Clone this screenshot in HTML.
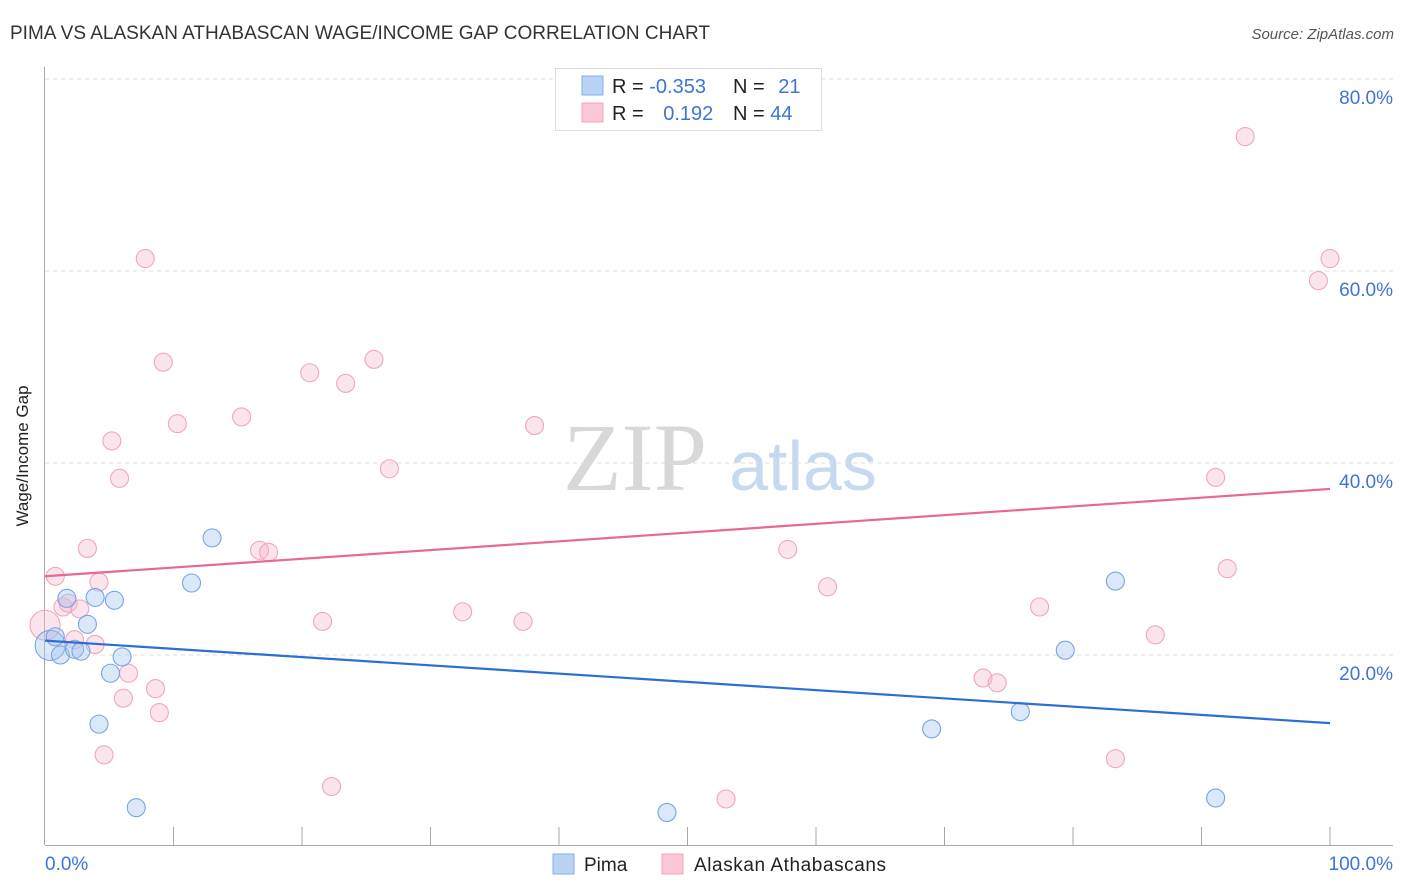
<!DOCTYPE html>
<html><head><meta charset="utf-8"><style>
body{margin:0;background:#fff;font-family:"Liberation Sans",sans-serif;}
svg{display:block}
</style></head><body>
<svg width="1406" height="892">
<text x="10" y="39" font-size="19" fill="#333" textLength="700">PIMA VS ALASKAN ATHABASCAN WAGE/INCOME GAP CORRELATION CHART</text>
<text x="1394" y="39" font-size="15" fill="#555" font-style="italic" text-anchor="end">Source: ZipAtlas.com</text>
<g>
<text x="635" y="490" font-size="96" font-family="Liberation Serif,serif" fill="#d8d8d8" text-anchor="middle">ZIP</text>
<text x="803" y="490" font-size="70" fill="#c6d9f1" text-anchor="middle">atlas</text>
</g>
<g id="grid"></g>
<g id="axes"></g>
<g id="marks"></g>
<text x="28" y="456" font-size="17" fill="#222" text-anchor="middle" transform="rotate(-90 28 456)">Wage/Income Gap</text>
<g>
<rect x="555.5" y="68.5" width="266" height="62" fill="#fff" stroke="#ddd"/>
<rect x="582" y="76" width="21" height="19" fill="#b9d3f5" stroke="#86aee6"/>
<rect x="582" y="103" width="21" height="19" fill="#fbc8d6" stroke="#f1a5bd"/>
<text x="612" y="93" font-size="20" fill="#222">R = <tspan fill="#3d75d6">-0.353</tspan></text>
<text x="733" y="93" font-size="20" fill="#222">N = <tspan fill="#3d75d6" dx="8">21</tspan></text>
<text x="612" y="120" font-size="20" fill="#222">R = <tspan fill="#3d75d6" dx="14">0.192</tspan></text>
<text x="733" y="120" font-size="20" fill="#222">N = <tspan fill="#3d75d6">44</tspan></text>
</g>
<g>
<rect x="553" y="854" width="21" height="20" fill="#b9d3f5" stroke="#86aee6"/>
<text x="584" y="871" font-size="19" fill="#222">Pima</text>
<rect x="662" y="854" width="21" height="20" fill="#fbc8d6" stroke="#f1a5bd"/>
<text x="694" y="871" font-size="19" fill="#222" textLength="192">Alaskan Athabascans</text>
</g>
</svg>
<script>
const pimaX=[0.4,0.8,1.2,1.7,2.3,2.8,3.3,3.9,4.2,5.1,5.4,6.0,7.1,11.4,13.0,48.4,69.0,75.9,79.4,83.3,91.1];
const pimaY=[21.0,21.9,20.0,25.9,20.6,20.4,23.2,26.0,12.8,18.1,25.7,19.8,4.1,27.5,32.2,3.6,12.3,14.1,20.5,27.7,5.1];
const alaskX=[0,0.8,1.4,1.8,2.3,2.7,3.3,3.9,4.2,4.6,5.2,5.8,6.1,6.5,7.8,8.6,8.9,9.2,10.3,15.3,16.7,17.4,20.6,21.6,22.3,23.4,25.6,26.8,32.5,37.2,38.1,53.0,57.8,60.9,73.0,74.1,77.4,83.3,86.4,91.1,92.0,93.4,99.1,100];
const alaskY=[23.1,28.2,25.0,25.4,21.6,24.8,31.1,21.1,27.6,9.6,42.3,38.4,15.5,18.1,61.3,16.5,14.0,50.5,44.1,44.8,30.9,30.7,49.4,23.5,6.3,48.3,50.8,39.4,24.5,23.5,43.9,5.0,31.0,27.1,17.6,17.1,25.0,9.2,22.1,38.5,29.0,74.0,59.0,61.3];
const pimaTrend=[21.5,12.9];
const alaskTrend=[28.2,37.3];
const yTicks=[20,40,60,80];
const xTicks=[0,10,20,30,40,50,60,70,80,90,100];
const NS='http://www.w3.org/2000/svg';
const sx=v=>45+v*12.85;
const sy=v=>847-v*9.6;
function mk(tag,attrs,parent){const e=document.createElementNS(NS,tag);for(const k in attrs)e.setAttribute(k,attrs[k]);parent.appendChild(e);return e;}
const grid=document.getElementById('grid'),axes=document.getElementById('axes'),marks=document.getElementById('marks');
yTicks.forEach(t=>{
 const l=mk('line',{x1:45,x2:1393,y1:sy(t),y2:sy(t),stroke:'#ddd','stroke-dasharray':'4,4'},grid);
 
 
 const tx=mk('text',{x:1393,y:sy(t)+25,'font-size':19,fill:'#3d75d6','text-anchor':'end'},axes);
 tx.textContent=t.toFixed(1)+'%';
 
 
});
const yl=mk('line',{x1:44.5,x2:44.5,y1:67,y2:845,stroke:'#aaa'},axes);


const xl=mk('line',{x1:45,x2:1393,y1:845.5,y2:845.5,stroke:'#aaa'},axes);


xTicks.forEach(t=>{if(t===0)return;
 const l=mk('line',{x1:sx(t),x2:sx(t),y1:827,y2:845,stroke:'#aaa'},axes);
 
 
});
const x0=mk('text',{x:45,y:870,'font-size':19,fill:'#3d75d6'},axes);x0.textContent='0.0%';


const x1=mk('text',{x:1393,y:870,'font-size':19,fill:'#3d75d6','text-anchor':'end'},axes);x1.textContent='100.0%';


function pts(X,Y,fill,stroke,name,bigIdx){X.forEach((x,i)=>{
 const c=mk('circle',{cx:sx(x),cy:sy(Y[i]),r:(i===bigIdx?15:9),fill:fill,stroke:stroke,'stroke-width':1.1},marks);
 
 
});}
pts(alaskX,alaskY,'rgba(248,185,205,0.38)','#efa7bd','point-alaskan',0);
pts(pimaX,pimaY,'rgba(165,198,240,0.4)','#76a5e2','point-pima',0);
const tp=mk('line',{x1:sx(0),y1:sy(pimaTrend[0]),x2:sx(100),y2:sy(pimaTrend[1]),stroke:'#2a6fd6','stroke-width':2.2},marks);


const ta=mk('line',{x1:sx(0),y1:sy(alaskTrend[0]),x2:sx(100),y2:sy(alaskTrend[1]),stroke:'#e8688f','stroke-width':2.2},marks);


</script>
</body></html>
